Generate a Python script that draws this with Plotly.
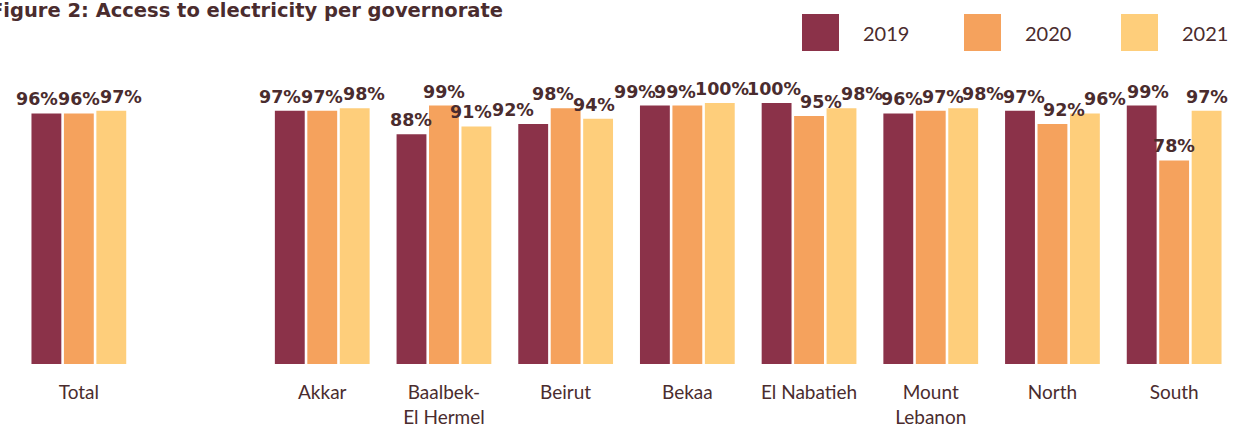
import plotly.graph_objects as go

categories = ["Total", "Akkar", "Baalbek-<br>El Hermel", "Beirut", "Bekaa",
              "El Nabatieh", "Mount<br>Lebanon", "North", "South"]
years = ["2019", "2020", "2021"]
v2019 = [96, 97, 88, 92, 99, 100, 96, 97, 99]
v2020 = [96, 97, 99, 98, 99, 95, 97, 92, 78]
v2021 = [97, 98, 91, 94, 100, 98, 98, 96, 97]
colors = ["#8B3249", "#F5A25D", "#FECE7B"]
TXT = "#4A2C2E"

# Total sits alone; a blank slot separates it from the governorates
positions = [0] + [i + 1 for i in range(1, len(categories))]

W, H = 1235, 428
L, R, T, B = 18, 0, 103, 64
PW, PH = W - L - R, H - T - B
BARGAP, GROUPGAP = 0.2, 0.08
LBL_SIZE = 17.5
YMAX = 100
MAX_SHIFT = 20

def px(x):
    return (x - L) / PW

def py(y):
    return (H - B - y) / PH

series = [v2019, v2020, v2021]

fig = go.Figure()
for name, vals, col in zip(years, series, colors):
    fig.add_trace(go.Bar(
        x=positions, y=vals, name=name, marker=dict(color=col, line=dict(width=0)),
        showlegend=False,
    ))

# value labels: centred on each bar, then nudged sideways (a little) where they collide
slot_px = PW / 10.0
pitch_px = slot_px * (1 - BARGAP) / 3.0

def label_w(v):
    s = f"{v}%"
    return LBL_SIZE * (0.696 * (len(s) - 1) + 1.002)

labels = []
for gi, pos in enumerate(positions):
    for k, s in enumerate(series):
        v = s[gi]
        c0 = L + (pos + 0.5) * slot_px + (k - 1) * pitch_px
        labels.append(dict(pos=pos, v=v, k=k, c0=c0, c=c0, w=label_w(v),
                           top=v / YMAX * PH))
labels.sort(key=lambda d: d["c0"])
for _ in range(300):
    for i in range(len(labels)):
        for j in range(i + 1, min(i + 5, len(labels))):
            a, b = labels[i], labels[j]
            if abs(a["top"] - b["top"]) >= 17:
                continue
            ov = (a["w"] + b["w"]) / 2.0 - (b["c"] - a["c"])
            if ov > 0:
                a["c"] -= ov / 2.0
                b["c"] += ov / 2.0
    for d in labels:
        d["c"] = min(max(d["c"], d["c0"] - MAX_SHIFT), d["c0"] + MAX_SHIFT)
        d["c"] = min(max(d["c"], d["w"] / 2.0), W - d["w"] / 2.0)

annotations = []
for d in labels:
    annotations.append(dict(
        xref="x", yref="y", x=d["pos"], y=d["v"], xanchor="center", yanchor="bottom",
        xshift=(d["k"] - 1) * pitch_px + (d["c"] - d["c0"]), yshift=2,
        text=f"<b>{d['v']}%</b>", showarrow=False,
        font=dict(family="DejaVu Sans", size=LBL_SIZE, color=TXT)))

shapes = []
leg_x = [802, 964, 1121]
for lx, name, col in zip(leg_x, years, colors):
    shapes.append(dict(type="rect", xref="paper", yref="paper",
                       x0=px(lx), x1=px(lx + 37), y0=py(51), y1=py(14),
                       fillcolor=col, line=dict(width=0)))
    annotations.append(dict(xref="paper", yref="paper", x=px(lx + 59), y=py(33),
                            xanchor="left", yanchor="middle", text=name, showarrow=False,
                            font=dict(family="Lato", size=20, color=TXT)))

annotations.append(dict(xref="paper", yref="paper", x=px(-12), y=py(10),
                        xanchor="left", yanchor="middle", showarrow=False,
                        text="<b>Figure 2: Access to electricity per governorate</b>",
                        font=dict(family="DejaVu Sans", size=19.5, color=TXT)))

fig.update_layout(
    width=W, height=H,
    margin=dict(l=L, r=R, t=T, b=B, autoexpand=False),
    paper_bgcolor="white", plot_bgcolor="white",
    barmode="group", bargap=BARGAP, bargroupgap=GROUPGAP,
    shapes=shapes, annotations=annotations,
    xaxis=dict(range=[-0.5, 9.5], tickvals=positions, ticktext=categories,
               showgrid=False, zeroline=False, showline=False, ticks="",
               ticklabelstandoff=15, automargin=False, fixedrange=True,
               tickfont=dict(family="Lato", size=19, color=TXT)),
    yaxis=dict(range=[0, YMAX], visible=False, automargin=False, fixedrange=True),
    showlegend=False,
    hovermode=False,
)
fig.write_html("out.html", config={"displayModeBar": False},
               post_script="document.body.style.margin='0';document.body.style.overflow='hidden';")
